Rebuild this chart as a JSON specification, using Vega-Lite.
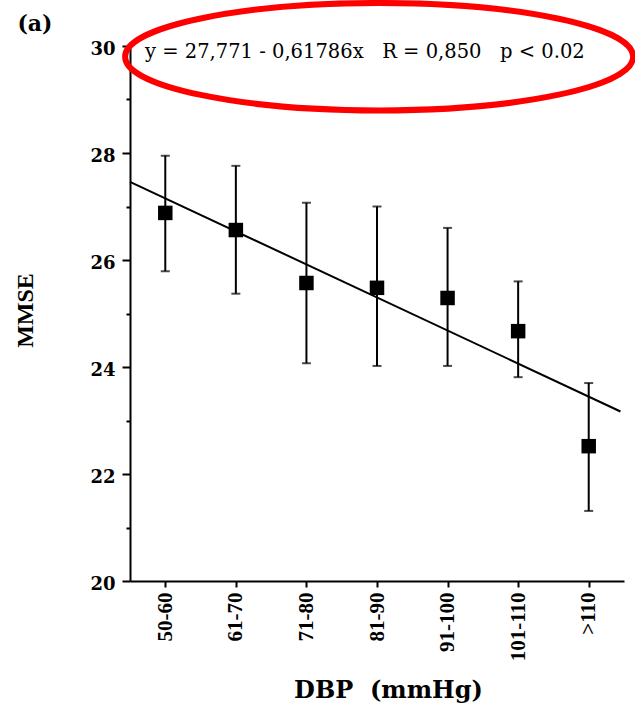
{
  "$schema": "https://vega.github.io/schema/vega-lite/v6.json",
  "width": 494,
  "height": 535,
  "autosize": {"type": "none"},
  "padding": {"left": 130, "top": 46, "right": 11, "bottom": 124},
  "background": "white",
  "config": {"view": {"stroke": null}, "axis": {"grid": false}},
  "datasets": {
    "groups": [
      {"idx": 1, "cat": "50-60", "mmse": 26.88, "lo": 25.79, "hi": 27.95},
      {"idx": 2, "cat": "61-70", "mmse": 26.56, "lo": 25.37, "hi": 27.76},
      {"idx": 3, "cat": "71-80", "mmse": 25.57, "lo": 24.07, "hi": 27.07},
      {"idx": 4, "cat": "81-90", "mmse": 25.48, "lo": 24.02, "hi": 27.0},
      {"idx": 5, "cat": "91-100", "mmse": 25.29, "lo": 24.02, "hi": 26.6},
      {"idx": 6, "cat": "101-110", "mmse": 24.67, "lo": 23.81, "hi": 25.6},
      {"idx": 7, "cat": ">110", "mmse": 22.52, "lo": 21.31, "hi": 23.7}
    ],
    "fit": [
      {"x": 0.5, "y": 27.462},
      {"x": 7.45, "y": 23.168}
    ],
    "equation": [
      {"x": 0.713, "y": 29.776, "label": "y = 27,771 - 0,61786x\u00a0\u00a0\u00a0R = 0,850\u00a0\u00a0\u00a0p < 0.02"}
    ],
    "panel": [
      {"x": -0.847, "y": 30.41, "label": "(a)"}
    ],
    "highlight": [
      {"x": 4.03, "y": 29.8}
    ]
  },
  "resolve": {"axis": {"y": "independent"}},
  "layer": [
    {
      "data": {"name": "groups"},
      "mark": {"type": "rule", "color": "black", "strokeWidth": 2},
      "encoding": {
        "x": {
          "field": "idx", "type": "quantitative",
          "scale": {"domain": [0.5, 7.5], "nice": false, "zero": false},
          "axis": {
            "values": [1, 2, 3, 4, 5, 6, 7],
            "labelExpr": "['','50-60','61-70','71-80','81-90','91-100','101-110','>110'][datum.value]",
            "labelAngle": -90,
            "labelFont": "Liberation Serif",
            "labelFontWeight": "bold",
            "labelFontSize": 21,
            "labelColor": "black",
            "labelPadding": 5,
            "labelFlush": false,
            "labelOverlap": false,
            "tickSize": 6,
            "tickWidth": 2,
            "tickColor": "black",
            "domainColor": "black",
            "domainWidth": 2,
            "title": "DBP\u00a0\u00a0(mmHg)",
            "titleFont": "DejaVu Serif",
            "titleFontWeight": "bold",
            "titleFontSize": 24,
            "titleColor": "black",
            "titleX": 258,
            "titleY": 109,
            "titleBaseline": "middle",
            "titleAlign": "center"
          }
        },
        "y": {
          "field": "lo", "type": "quantitative",
          "scale": {"domain": [20, 30], "nice": false, "zero": false},
          "axis": {
            "values": [20, 22, 24, 26, 28, 30],
            "format": "d",
            "labelFont": "DejaVu Serif",
            "labelFontWeight": "bold",
            "labelFontSize": 18,
            "labelColor": "black",
            "labelPadding": 7,
            "labelOffset": 3,
            "labelFlush": false,
            "tickSize": 8,
            "tickWidth": 2,
            "tickColor": "black",
            "domainColor": "black",
            "domainWidth": 2,
            "title": "MMSE",
            "titleFont": "Liberation Serif",
            "titleFontWeight": "bold",
            "titleFontSize": 24,
            "titleColor": "black",
            "titleAngle": -90,
            "titleX": -105,
            "titleY": 264,
            "titleBaseline": "middle",
            "titleAlign": "center"
          }
        },
        "y2": {"field": "hi"}
      }
    },
    {
      "data": {"name": "groups"},
      "mark": {"type": "tick", "orient": "horizontal", "size": 9, "thickness": 2, "color": "black"},
      "encoding": {
        "x": {"field": "idx", "type": "quantitative", "scale": {"domain": [0.5, 7.5], "nice": false, "zero": false}},
        "y": {"field": "lo", "type": "quantitative", "scale": {"domain": [20, 30], "nice": false, "zero": false}, "axis": null}
      }
    },
    {
      "data": {"name": "groups"},
      "mark": {"type": "tick", "orient": "horizontal", "size": 9, "thickness": 2, "color": "black"},
      "encoding": {
        "x": {"field": "idx", "type": "quantitative", "scale": {"domain": [0.5, 7.5], "nice": false, "zero": false}},
        "y": {"field": "hi", "type": "quantitative", "scale": {"domain": [20, 30], "nice": false, "zero": false}, "axis": null}
      }
    },
    {
      "data": {"name": "fit"},
      "mark": {"type": "line", "color": "black", "strokeWidth": 2},
      "encoding": {
        "x": {"field": "x", "type": "quantitative", "scale": {"domain": [0.5, 7.5], "nice": false, "zero": false}},
        "y": {
          "field": "y", "type": "quantitative",
          "scale": {"domain": [20, 30], "nice": false, "zero": false},
          "axis": {"orient": "left", "values": [21, 23, 25, 27, 29], "labels": false, "domain": false, "tickSize": 4, "tickWidth": 2, "tickColor": "black", "title": null}
        }
      }
    },
    {
      "data": {"name": "groups"},
      "mark": {"type": "square", "size": 210, "color": "black", "opacity": 1},
      "encoding": {
        "x": {"field": "idx", "type": "quantitative", "scale": {"domain": [0.5, 7.5], "nice": false, "zero": false}},
        "y": {"field": "mmse", "type": "quantitative", "scale": {"domain": [20, 30], "nice": false, "zero": false}, "axis": null}
      }
    },
    {
      "data": {"name": "equation"},
      "mark": {"type": "text", "align": "left", "baseline": "alphabetic", "font": "DejaVu Serif", "fontSize": 19.5, "color": "black"},
      "encoding": {
        "x": {"field": "x", "type": "quantitative", "scale": {"domain": [0.5, 7.5], "nice": false, "zero": false}},
        "y": {"field": "y", "type": "quantitative", "scale": {"domain": [20, 30], "nice": false, "zero": false}, "axis": null},
        "text": {"field": "label"}
      }
    },
    {
      "data": {"name": "panel"},
      "mark": {"type": "text", "align": "center", "baseline": "middle", "font": "DejaVu Serif", "fontWeight": "bold", "fontSize": 22, "color": "black"},
      "encoding": {
        "x": {"field": "x", "type": "quantitative", "scale": {"domain": [0.5, 7.5], "nice": false, "zero": false}},
        "y": {"field": "y", "type": "quantitative", "scale": {"domain": [20, 30], "nice": false, "zero": false}, "axis": null},
        "text": {"field": "label"}
      }
    },
    {
      "data": {"name": "highlight"},
      "mark": {
        "type": "point",
        "shape": "M-1,0C-1,-0.1168,-0.5523,-0.2115,0,-0.2115C0.5523,-0.2115,1,-0.1168,1,0C1,0.1168,0.5523,0.2115,0,0.2115C-0.5523,0.2115,-1,0.1168,-1,0Z",
        "size": 258064,
        "filled": false,
        "color": "#ff0000",
        "strokeWidth": 6,
        "opacity": 1
      },
      "encoding": {
        "x": {"field": "x", "type": "quantitative", "scale": {"domain": [0.5, 7.5], "nice": false, "zero": false}},
        "y": {"field": "y", "type": "quantitative", "scale": {"domain": [20, 30], "nice": false, "zero": false}, "axis": null}
      }
    }
  ]
}
